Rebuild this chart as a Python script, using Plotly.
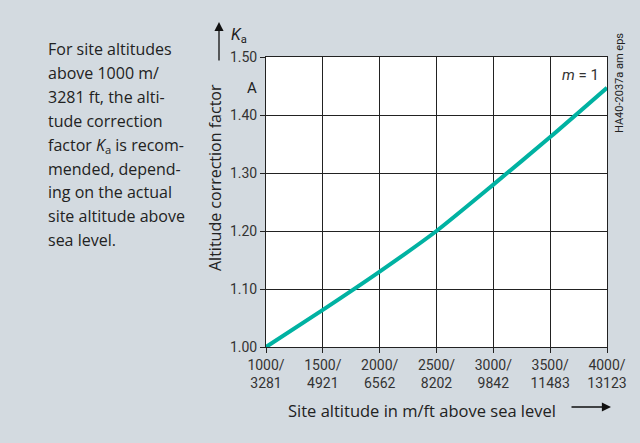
import plotly.graph_objects as go

# data
altitude_m = [1000, 1500, 2000, 2500, 3000, 3500, 4000]
altitude_ft = [3281, 4921, 6562, 8202, 9842, 11483, 13123]
k_a = [1.000, 1.064, 1.130, 1.200, 1.280, 1.362, 1.447]
y_ticks = [1.00, 1.10, 1.20, 1.30, 1.40, 1.50]

x_labels = [f"{m}/<br>{ft}" for m, ft in zip(altitude_m, altitude_ft)]
intro_lines = ["For site altitudes", "above 1000 m/", "3281 ft, the alti-",
               "tude correction", "factor <i>K</i><sub>a</sub> is recom-",
               "mended, depend-", "ing on the actual", "site altitude above",
               "sea level."]

bg = "#d3dae0"
ink = "#222"
tickfont = "Roboto, sans-serif"
body = "Open Sans, sans-serif"

# plot area in pixels: x 266..607, y 57..347
def px(x):
    return (x - 266) / 341

def py(y):
    return (347 - y) / 290

fig = go.Figure()
fig.add_trace(go.Scatter(
    x=altitude_m, y=k_a, mode="lines",
    line=dict(color="#00b2a2", width=4, shape="spline", smoothing=0.6),
    hoverinfo="skip", showlegend=False,
))

axis_style = dict(
    showgrid=True, gridcolor=ink, gridwidth=1,
    showline=True, linecolor=ink, linewidth=1, mirror=True,
    ticks="outside", ticklen=5, tickcolor=ink,
    tickfont=dict(family=tickfont, size=14, color="#333"),
    zeroline=False, fixedrange=True,
)

fig.update_layout(
    width=640, height=443,
    margin=dict(l=266, r=33, t=57, b=96, autoexpand=False),
    paper_bgcolor=bg, plot_bgcolor="white",
    xaxis=dict(range=[1000, 4000], tickvals=altitude_m, ticktext=x_labels, **axis_style),
    yaxis=dict(range=[1.0, 1.5], tickvals=y_ticks,
               ticktext=[f"{v:.2f}" for v in y_ticks], **axis_style),
    font=dict(family=body, color=ink),
)

def label(text, x, y, size, family=body, xanchor="center", yanchor="middle", **kw):
    fig.add_annotation(text=text, xref="paper", yref="paper", x=px(x), y=py(y),
                       xanchor=xanchor, yanchor=yanchor, showarrow=False,
                       font=dict(family=family, size=size, color=ink), **kw)

def arrow(x0, y0, x1, y1):
    fig.add_annotation(x=px(x1), y=py(y1), ax=px(x0), ay=py(y0),
                       xref="x domain", yref="y domain", axref="x domain", ayref="y domain",
                       text="", showarrow=True,
                       arrowhead=2, arrowsize=1.4, arrowwidth=1.3, arrowcolor="#111")

# explanatory text, one annotation per line to keep the spacing
for i, line in enumerate(intro_lines):
    label(line, 46, 36 + i * 23.9, 16, xanchor="left", yanchor="top")

# y axis title, unit and symbol
label("Altitude correction factor", 215, 178, 16, textangle=-90)
label("A", 252, 88, 15, family=tickfont)
label("<i>K</i><sub>a</sub>", 229, 36, 16, family=tickfont, xanchor="left")
arrow(219, 62, 219, 22)

# curve label and drawing code
fig.add_annotation(text="<i>m</i> = 1", xref="x", yref="y", x=3950, y=1.469,
                   xanchor="right", yanchor="middle", showarrow=False,
                   font=dict(family=tickfont, size=15, color="#333"))
label("HA40-2037a am eps", 620, 83, 11, family=tickfont, textangle=-90)

# x axis title with arrow
label("Site altitude in m/ft above sea level", 422, 410, 16.5)
arrow(570, 407, 611, 407)

fig.write_html("out.html", config={"displayModeBar": False},
               post_script="document.body.style.margin='0';")
